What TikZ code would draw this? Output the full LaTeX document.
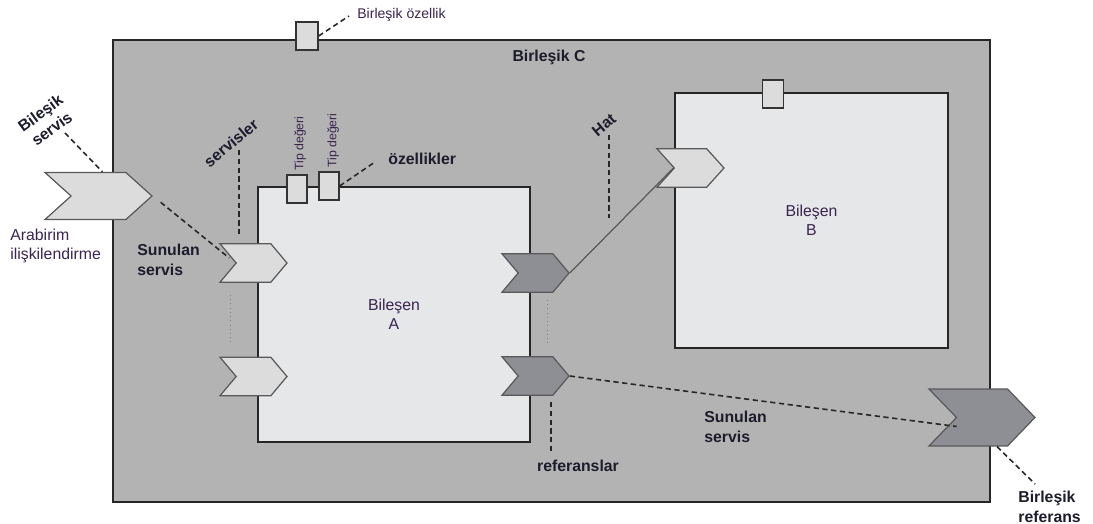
\documentclass[tikz,border=0pt]{standalone}
\usepackage{fontspec}
\setmainfont{Liberation Sans}
\usepackage{tikz}
\usetikzlibrary{shapes.symbols,calc}

\definecolor{outerfill}{HTML}{B3B3B3}
\definecolor{compfill}{HTML}{E6E7E9}
\definecolor{lightfill}{HTML}{DCDCDC}
\definecolor{darkfill}{HTML}{8E8F94}
\definecolor{txtreg}{HTML}{3A2450}
\definecolor{txtbold}{HTML}{1C1C2C}

\tikzset{
  comp/.style={draw=black!85, fill=compfill, line width=0.8pt, inner sep=0pt,
    font=\fontsize{9}{11}\selectfont, text=txtreg, align=center},
  propbox/.style={draw=black!80, fill=lightfill, line width=0.7pt, inner sep=0pt,
    minimum width=0.4cm, minimum height=0.56cm},
  chev/.style={signal, signal from=west, signal to=east, draw=black!65,
    line width=0.7pt, inner sep=0pt},
  svc/.style={chev, fill=lightfill},
  refc/.style={chev, fill=darkfill},
  leader/.style={dash pattern=on 3pt off 2pt, line width=0.9pt, black!85},
  dotline/.style={dotted, gray, line width=0.4pt},
  wire/.style={line width=0.7pt, black!65},
  lbl/.style={font=\bfseries\fontsize{9}{11}\selectfont, text=txtbold, inner sep=0pt},
  note/.style={font=\fontsize{9}{10.5}\selectfont, text=txtreg, inner sep=0pt},
  tipnote/.style={font=\fontsize{7}{8}\selectfont, text=txtreg, inner sep=0pt,
    rotate=90, anchor=west}
}

\begin{document}
\begin{tikzpicture}[x=0.02cm, y=-0.02cm]
  \useasboundingbox (0,0) rectangle (1093,524);

  \node[comp, fill=outerfill, minimum width=17.54cm, minimum height=9.24cm] (compC) at (551.5,271) {};
  \node[lbl] (lblC) at (549,57) {Birleşik C};

  \node[comp, minimum width=5.44cm, minimum height=5.1cm] (compA) at (394,314.5) {Bileşen\\A};
  \node[comp, minimum width=5.46cm, minimum height=5.1cm] (compB) at (811.5,220.5) {Bileşen\\B};

  \node[propbox, minimum width=0.44cm] (propC) at (307,36) {};
  \node[propbox] (propA1) at (297,189) {};
  \node[propbox] (propA2) at (329,186) {};
  \node[propbox, minimum width=0.42cm] (propB) at (773,94) {};

  \node[svc, signal pointer angle=84, minimum width=2.14cm, minimum height=0.94cm] (svcC) at (98.5,196) {};
  \foreach \n/\y in {1/263, 2/376.5} {
    \node[svc, signal pointer angle=100, minimum width=1.34cm, minimum height=0.77cm] (svcA\n) at (253.5,\y) {};
  }
  \foreach \n/\y in {1/273, 2/376} {
    \node[refc, signal pointer angle=100, minimum width=1.34cm, minimum height=0.77cm] (refA\n) at (535.5,\y) {};
  }
  \node[svc, signal pointer angle=96, minimum width=1.34cm, minimum height=0.77cm] (svcB) at (690.5,168) {};
  \node[refc, signal pointer angle=92, minimum width=2.12cm, minimum height=1.14cm] (refC) at (982,417.5) {};

  \draw[wire] (refA1.east) -- (svcB.west);

  \node[tipnote] (tipA1) at (300,171) {Tip değeri};
  \node[tipnote] (tipA2) at (333,168) {Tip değeri};

  \node[note, font=\fontsize{8}{9.5}\selectfont, anchor=west] (lblProp) at (357,15) {Birleşik özellik};
  \node[lbl, anchor=west] (lblOz) at (388,159) {özellikler};
  \node[lbl, align=center, rotate=36] (lblBS) at (46,121) {Bileşik\\servis};
  \node[note, align=left, anchor=west] (lblAr) at (10,246) {Arabirim\\ilişkilendirme};
  \node[lbl, align=left, anchor=west] (lblSun) at (137,260) {Sunulan\\servis};
  \node[lbl, rotate=40] (lblSv) at (231,143) {servisler};
  \node[lbl, rotate=40] (lblHat) at (604,125) {Hat};
  \node[lbl] (lblRef) at (578,466) {referanslar};
  \node[lbl, align=left, anchor=west] (lblSun2) at (704,427) {Sunulan\\servis};
  \node[lbl, align=left, anchor=west] (lblBR) at (1018,507) {Birleşik\\referans};

  \coordinate (bsFoot) at (65,133);
  \coordinate (svTop) at (239,150);
  \coordinate (hatTop) at (609,135);
  \coordinate (refTop) at (551,402);
  \coordinate (brTop) at (1035,484);

  \draw[leader] (propC.east) -- ($(lblProp.west)+(-8,1)$);
  \draw[leader] (propA2.east) -- ($(lblOz.west)+(-13,3)$);
  \draw[leader] (bsFoot) -- ($(svcC.north)+(4,0)$);
  \draw[leader, shorten <=0.2cm, shorten >=0.16cm] (svcC.east) -- (svcA1.west);
  \draw[leader] (svTop) -- ($(svTop |- svcA1.north)+(0,-9)$);
  \draw[leader] (hatTop) -- (609,218);
  \draw[leader] (refTop) -- ($(lblRef.north -| refTop)+(0,-6)$);
  \draw[leader] (refA2.east) -- ($(refC.west)+(1,9)$);
  \draw[leader] ($(refC.south)+(15,0)$) -- (brTop);

  \draw[dotline] (230,295) -- (230,342);
  \draw[dotline] (547,300) -- (547,345);
\end{tikzpicture}
\end{document}
